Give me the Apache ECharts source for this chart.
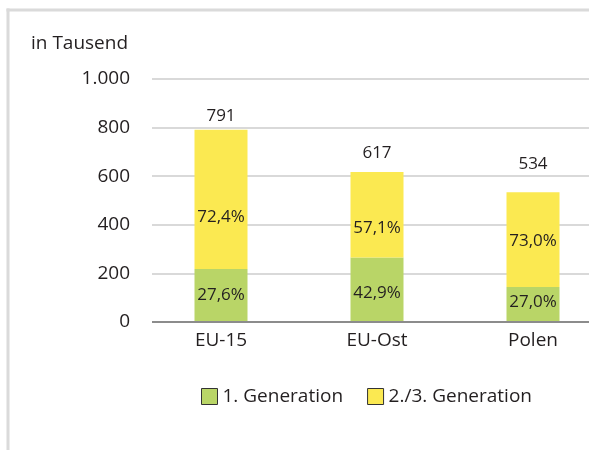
<!DOCTYPE html>
<html><head><meta charset="utf-8">
<script src="https://cdn.jsdelivr.net/npm/echarts@6/dist/echarts.min.js"></script>
<style>html,body{margin:0;padding:0;background:#fff}#c{width:589px;height:450px}</style>
</head><body><div id="c"></div>
<script>
var categories = ['EU-15', 'EU-Ost', 'Polen'];
var gen1 = [218, 265, 144];
var gen23 = [573, 352, 390];
var totals = [791, 617, 534];
var gen1Pct = ['27,6%', '42,9%', '27,0%'];
var gen23Pct = ['72,4%', '57,1%', '73,0%'];
var yTicks = [0, 200, 400, 600, 800, 1000];
var seriesNames = ['1. Generation', '2./3. Generation'];

var FONT = '"Open Sans", sans-serif';
var TXT = '#231f20';
var totalDist = [5, 10, 20];
var gen23Off = [18, 13, 2];
var gen1Off = [0, 3, -2];

function fmt(v){ return String(v).replace(/\B(?=(\d{3})+(?!\d))/g, '.'); }

var chart = echarts.init(document.getElementById('c'), null, {renderer:'canvas'});
chart.setOption({
  animation: false,
  textStyle: {fontFamily: FONT, color: TXT},
  graphic: [
    {type:'line', shape:{x1:6.5, y1:10, x2:700, y2:10}, style:{stroke:'#dadada', lineWidth:3}, z:-10},
    {type:'line', shape:{x1:8, y1:8.5, x2:8, y2:700}, style:{stroke:'#dadada', lineWidth:3}, z:-10},
    {type:'text', left:31, top:34, style:{text:'in Tausend', font:'19px ' + FONT, fill:TXT}}
  ],
  legend: {
    left: 196, top: 382, itemWidth: 16, itemHeight: 16, itemGap: 24,
    icon: 'rect',
    textStyle: {fontSize: 19, color: TXT, fontFamily: FONT},
    itemStyle: {borderColor: '#333', borderWidth: 1},
    data: seriesNames
  },
  grid: [
    {left:152, right:0, top:79, height:243, outerBoundsMode:'none'},
    {left:143, width:468, top:79, height:243, outerBoundsMode:'none'}
  ],
  xAxis: [
    {gridIndex:0, type:'value', min:0, max:1, show:true, axisLine:{show:false}, axisTick:{show:false}, axisLabel:{show:false}, splitLine:{show:false}},
    {gridIndex:1, type:'category', data:categories, axisLine:{show:false}, axisTick:{show:false},
     axisLabel:{fontSize:19, color:TXT, fontFamily:FONT, margin:9}}
  ],
  yAxis: [
    {gridIndex:0, type:'value', min:0, max:1000, interval:200,
     axisLine:{show:false}, axisTick:{show:false},
     axisLabel:{fontSize:19, color:TXT, fontFamily:FONT, margin:22, formatter: function(v){ return yTicks.indexOf(v) >= 0 ? fmt(v) : ''; }},
     splitLine:{show:true, lineStyle:{color:'#d9d9d9', width:2}}},
    {gridIndex:1, type:'value', min:0, max:1000, interval:200, show:false}
  ],
  series: [
    {type:'line', xAxisIndex:0, yAxisIndex:0, data:[[0,0],[1,0]], symbol:'none', lineStyle:{color:'#8c8c8c', width:2}, silent:true, z:5, legendHoverLink:false},
    {name:seriesNames[0], type:'bar', xAxisIndex:1, yAxisIndex:1, stack:'a', barWidth:53,
     itemStyle:{color:'#b9d567'},
     data: gen1.map(function(v,i){ return {value:v, label:{offset:[0, gen1Off[i]]}}; }),
     label:{show:true, position:'inside', fontSize:17, color:TXT, fontFamily:FONT, formatter:function(p){ return gen1Pct[p.dataIndex]; }}},
    {name:seriesNames[1], type:'bar', xAxisIndex:1, yAxisIndex:1, stack:'a', barWidth:53,
     itemStyle:{color:'#fbe951'},
     data: gen23.map(function(v,i){ return {value:v, label:{offset:[0, gen23Off[i]]}}; }),
     label:{show:true, position:'inside', fontSize:17, color:TXT, fontFamily:FONT, formatter:function(p){ return gen23Pct[p.dataIndex]; }}},
    {name:'total', type:'bar', xAxisIndex:1, yAxisIndex:1, barWidth:53, barGap:'-100%', z:1,
     itemStyle:{color:'rgba(0,0,0,0)'}, silent:true,
     data: totals.map(function(v,i){ return {value:v, label:{distance: totalDist[i]}}; }),
     label:{show:true, position:'top', fontSize:17, color:TXT, fontFamily:FONT}}
  ]
});
</script></body></html>
